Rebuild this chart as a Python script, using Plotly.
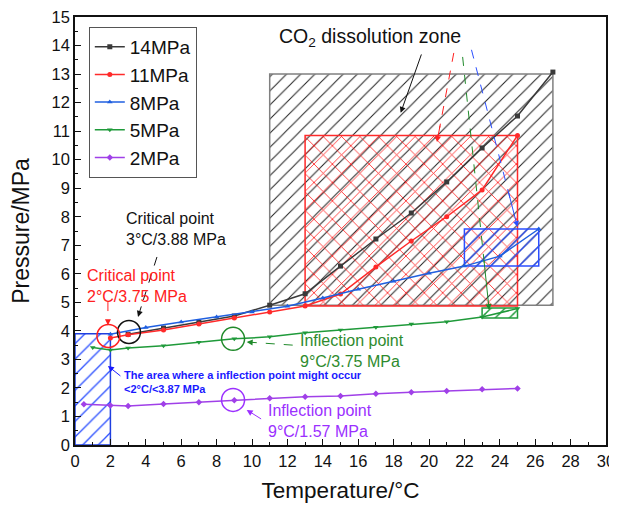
import plotly.graph_objects as go

# ---------------- data ----------------
temps_14 = [3, 5, 7, 9, 11, 13, 15, 17, 19, 21, 23, 25, 27]
p_14 = [3.88, 4.1, 4.3, 4.52, 4.9, 5.3, 6.27, 7.22, 8.13, 9.22, 10.41, 11.53, 13.07]

temps_11 = [2, 3, 5, 7, 9, 11, 13, 15, 17, 19, 21, 23, 25]
p_11 = [3.75, 3.86, 4.03, 4.24, 4.45, 4.66, 4.87, 5.29, 6.24, 7.15, 8.0, 8.94, 10.85]

temps_8 = [2, 4, 6, 8, 10, 12, 14, 16, 18, 20, 22, 24, 26.2]
p_8 = [3.88, 4.12, 4.31, 4.49, 4.66, 4.86, 5.15, 5.46, 5.74, 6.02, 6.27, 6.62, 7.57]

temps_5 = [1, 2, 3, 5, 7, 9, 11, 13, 15, 17, 19, 21, 23, 25]
p_5 = [3.42, 3.33, 3.4, 3.48, 3.6, 3.72, 3.79, 3.93, 4.03, 4.13, 4.24, 4.32, 4.49, 4.78]

temps_2 = [0.5, 2, 3, 5, 7, 9, 11, 13, 15, 17, 19, 21, 23, 25]
p_2 = [1.43, 1.38, 1.37, 1.44, 1.5, 1.57, 1.64, 1.69, 1.72, 1.8, 1.85, 1.89, 1.95, 1.98]

series_names = ["14MPa", "11MPa", "8MPa", "5MPa", "2MPa"]

# dissolution zones (rectangles): x0, x1, y0, y1
zone_x0 = [11, 13, 22, 23, 0]
zone_x1 = [27, 25, 26.2, 25, 2]
zone_y0 = [4.9, 4.87, 6.27, 4.45, 0]
zone_y1 = [13.0, 10.85, 7.57, 4.8, 3.9]

x_ticks = list(range(0, 31, 2))
y_ticks = list(range(0, 16, 1))

# ---------------- styles ----------------
C14, C11, C8, C5, C2 = "#3a3a3a", "#ff2a2a", "#1f5fe0", "#1f9a3a", "#a040e8"
FONT = "Arial, Liberation Sans, sans-serif"

fig = go.Figure()

zone_styles = [
    dict(line="#808080", fg="#222222", shape="/", size=10, sol=0.1),
    dict(line="#ff2a2a", fg="#ff1a1a", shape="x", size=13, sol=0.12),
    dict(line="#2b4fff", fg="#2b4fff", shape="/", size=10, sol=0.12),
    dict(line="#1f9a3a", fg="#1f9a3a", shape="/", size=10, sol=0.15),
    dict(line="#1f3fe0", fg="#2b4fff", shape="/", size=11, sol=0.12),
]
for x0, x1, y0, y1, st in zip(zone_x0, zone_x1, zone_y0, zone_y1, zone_styles):
    fig.add_trace(go.Scatter(
        x=[x0, x1, x1, x0, x0], y=[y0, y0, y1, y1, y0],
        mode="lines", fill="toself", fillcolor="rgba(0,0,0,0)",
        fillpattern=dict(shape=st["shape"], fgcolor=st["fg"], size=st["size"],
                         solidity=st["sol"], fgopacity=1),
        line=dict(color=st["line"], width=1.5),
        showlegend=False, hoverinfo="skip"))

series = [
    (temps_14, p_14, C14, "square"),
    (temps_11, p_11, C11, "circle"),
    (temps_8, p_8, C8, "triangle-up"),
    (temps_5, p_5, C5, "triangle-down"),
    (temps_2, p_2, C2, "diamond"),
]
for name, (xs, ys, col, sym) in zip(series_names, series):
    fig.add_trace(go.Scatter(
        x=xs, y=ys, name=name, mode="lines+markers",
        line=dict(color=col, width=1.5),
        marker=dict(symbol=sym, size=5, color=col)))

# circles marking points (pixel-sized)
circles = [(3.05, 3.96, "#111111"), (1.89, 3.82, "#ff2020"), (8.93, 3.72, "#1f8a2a"), (8.93, 1.58, "#9b30ff")]
for cx, cy, col in circles:
    fig.add_shape(type="circle", xref="x", yref="y", xsizemode="pixel", ysizemode="pixel",
                  xanchor=cx, yanchor=cy, x0=-11.5, x1=11.5, y0=-11.5, y1=11.5,
                  line=dict(color=col, width=1.5), layer="above")

# arrows: (tail x, tail y, head x, head y, colour, dashed)
arrows = [
    (19.6, 13.74, 18.4, 11.64, "#111111", False),
    (21.4, 13.74, 20.45, 10.62, "#ff2020", True),
    (21.9, 13.6, 23.4, 4.73, "#1f8a2a", True),
    (22.4, 13.85, 25.0, 7.64, "#2b4fff", True),
    (4.63, 6.59, 3.56, 4.49, "#111111", True),
    (1.86, 5.01, 1.86, 4.2, "#ff2020", True),
    (12.3, 3.5, 9.7, 3.61, "#1f8a2a", True),
    (10.6, 0.88, 9.7, 1.23, "#9b30ff", False),
    (2.65, 2.38, 1.86, 2.77, "#1a1aff", False),
]
for tx, ty, hx, hy, col, dashed in arrows:
    if dashed:
        fig.add_shape(type="line", xref="x", yref="y", x0=tx, y0=ty,
                      x1=tx + 0.85 * (hx - tx), y1=ty + 0.85 * (hy - ty),
                      line=dict(color=col, width=1, dash="dash"), layer="above")
        sx, sy = tx + 0.8 * (hx - tx), ty + 0.8 * (hy - ty)
    else:
        sx, sy = tx, ty
    fig.add_annotation(x=hx, y=hy, ax=sx, ay=sy, axref="x", ayref="y", xref="x", yref="y",
                       text="", showarrow=True, arrowhead=2, arrowsize=1.2, arrowwidth=1,
                       arrowcolor=col)

# text annotations
texts = [
    (16.67, 14.27, "CO<sub>2</sub> dissolution zone", "#111111", 19.5, "center", False),
    (2.77, 7.57, "Critical point<br>3°C/3.88 MPa", "#111111", 16, "left", False),
    (0.56, 5.56, "Critical point<br>2°C/3.75 MPa", "#ff2020", 16, "left", False),
    (12.6, 3.28, "Inflection point<br>9°C/3.75 MPa", "#2e8b2e", 16, "left", False),
    (10.8, 0.84, "Inflection point<br>9°C/1.57 MPa", "#9b30ff", 16, "left", False),
    (2.66, 2.21, "The area where a inflection point might occur<br><2°C/<3.87 MPa", "#1a1aff", 11, "left", True),
]
for x, y, t, col, fs, al, bold in texts:
    fig.add_annotation(x=x, y=y, xref="x", yref="y", text=("<b>%s</b>" % t) if bold else t,
                       showarrow=False, xanchor=al, yanchor="middle", align=al,
                       font=dict(family=FONT, size=fs, color=col))

fig.update_layout(
    width=617, height=513,
    margin=dict(l=67, r=19, t=9, b=76, autoexpand=False),
    paper_bgcolor="white", plot_bgcolor="white",
    font=dict(family=FONT, color="#111111"),
    legend=dict(x=0.026, y=0.977, xanchor="left", yanchor="top",
                bordercolor="#555555", borderwidth=1, bgcolor="rgba(255,255,255,0)",
                font=dict(size=19, family=FONT), tracegroupgap=0, itemsizing="trace"),
)
fig.update_xaxes(
    range=[0, 30], tickvals=x_ticks, ticks="inside", ticklen=6, tickwidth=1.2,
    tickcolor="#111111", showline=True, linecolor="#111111", linewidth=1.5, mirror=True,
    showgrid=False, zeroline=False, tickfont=dict(size=16.5, family=FONT), automargin=False,
    ticklabeloverflow="allow",
    minor=dict(ticks="inside", ticklen=3, dtick=1, tickcolor="#111111", showgrid=False),
    title=dict(text="Temperature/°C", font=dict(size=22.5, family=FONT), standoff=14))
fig.update_yaxes(
    range=[0, 15], tickvals=y_ticks, ticks="inside", ticklen=6, tickwidth=1.2,
    tickcolor="#111111", showline=True, linecolor="#111111", linewidth=1.5, mirror=True,
    showgrid=False, zeroline=False, tickfont=dict(size=16.5, family=FONT), automargin=False,
    ticklabeloverflow="allow",
    minor=dict(ticks="inside", ticklen=3, dtick=0.5, tickcolor="#111111", showgrid=False),
    title=dict(text="Pressure/MPa", font=dict(size=23, family=FONT), standoff=17))

fig.write_html("out.html")
